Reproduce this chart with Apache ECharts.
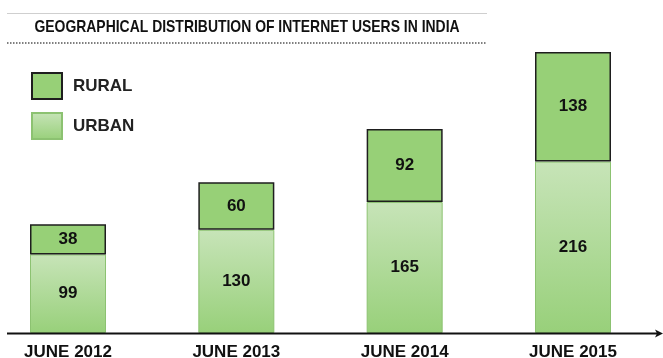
<!DOCTYPE html>
<html>
<head>
<meta charset="utf-8">
<script src="https://cdn.jsdelivr.net/npm/echarts@6/dist/echarts.min.js"></script>
<style>
  html, body { margin: 0; padding: 0; background: #fff; }
  #chart { width: 663px; height: 358px; }
</style>
</head>
<body>
<div id="chart"></div>
<script>
// Internet users in India (millions), by period and geography
const periods = ['JUNE 2012', 'JUNE 2013', 'JUNE 2014', 'JUNE 2015'];
const urbanUsers = [99, 130, 165, 216];
const ruralUsers = [38, 60, 92, 138];

const FONT = 'Liberation Sans, Arial, Helvetica, sans-serif';
const totals = periods.map((_, i) => urbanUsers[i] + ruralUsers[i]);
const yMax = Math.max(...totals);

const chart = echarts.init(document.getElementById('chart'));

const valueLabel = {
  show: true,
  position: 'inside',
  fontFamily: FONT,
  fontSize: 17,
  fontWeight: 'bold',
  color: '#111'
};

chart.setOption({
  animation: false,
  backgroundColor: '#fff',
  grid: {
    left: 68, right: 90, top: 52, bottom: 25,
    containLabel: false,
    outerBoundsMode: 'none'
  },
  legend: {
    data: ['RURAL', 'URBAN'],
    orient: 'vertical',
    left: 31,
    top: 72,
    padding: 0,
    itemWidth: 30,
    itemHeight: 26,
    itemGap: 12,
    icon: 'rect',
    textStyle: {
      fontFamily: FONT,
      fontSize: 17,
      fontWeight: 'bold',
      color: '#222',
      padding: [0, 0, 0, 6]
    }
  },
  xAxis: {
    type: 'category',
    data: periods,
    boundaryGap: false,
    axisLine: { show: false },
    axisTick: { show: false },
    splitLine: { show: false },
    axisLabel: {
      margin: 11,
      fontFamily: FONT,
      fontSize: 17,
      fontWeight: 'bold',
      color: '#111'
    }
  },
  yAxis: {
    type: 'value',
    min: 0,
    max: yMax,
    show: false,
    splitLine: { show: false }
  },
  series: [
    {
      name: 'URBAN',
      type: 'bar',
      stack: 'users',
      barWidth: 76,
      clip: false,
      data: urbanUsers,
      itemStyle: {
        color: new echarts.graphic.LinearGradient(0, 0, 0, 1, [
          { offset: 0, color: '#c7e4b8' },
          { offset: 1, color: '#98d07a' }
        ]),
        borderColor: '#8cc271',
        borderWidth: 1
      },
      label: valueLabel
    },
    {
      name: 'RURAL',
      type: 'bar',
      stack: 'users',
      barWidth: 76,
      clip: false,
      data: ruralUsers,
      itemStyle: {
        color: '#97d077',
        borderColor: '#1e1e1e',
        borderWidth: 1.5
      },
      label: valueLabel
    }
  ],
  graphic: [
    // thin rule above the heading
    {
      type: 'line',
      shape: { x1: 7, y1: 13.5, x2: 487, y2: 13.5 },
      style: { stroke: '#cfcfcf', lineWidth: 1 }
    },
    // heading, set in a narrow bold face
    {
      type: 'text',
      x: 247,
      y: 27,
      scaleX: 0.82,
      style: {
        text: 'GEOGRAPHICAL DISTRIBUTION OF INTERNET USERS IN INDIA',
        font: 'bold 17px ' + FONT,
        fill: '#111',
        textAlign: 'center',
        textVerticalAlign: 'middle'
      }
    },
    // dotted rule under the heading
    {
      type: 'line',
      shape: { x1: 7, y1: 43, x2: 487, y2: 43 },
      style: { stroke: '#555', lineWidth: 1.5, lineDash: [1.5, 1.5] }
    },
    // baseline with arrow head
    {
      type: 'line',
      shape: { x1: 7, y1: 333.5, x2: 658, y2: 333.5 },
      style: { stroke: '#111', lineWidth: 1.8 },
      z: 10
    },
    {
      type: 'polygon',
      shape: { points: [[663, 333.5], [655, 329.5], [657, 333.5], [655, 337.5]] },
      style: { fill: '#111' },
      z: 10
    }
  ]
});
</script>
</body>
</html>
